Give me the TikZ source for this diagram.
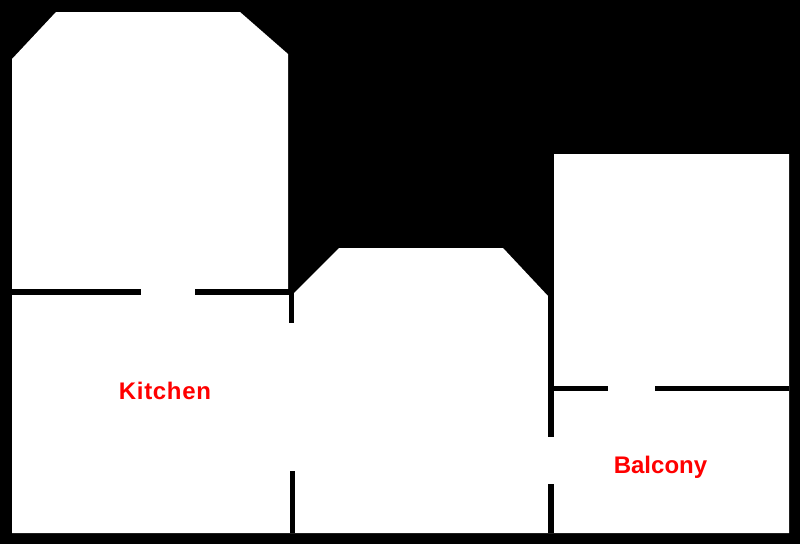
\documentclass[tikz,border=0pt]{standalone}
\usepackage{fontspec}
\setmainfont{Liberation Sans}
\newfontfamily\spacedfont[LetterSpace=2.8]{Liberation Sans}
\tikzset{
  wall/.style={fill=black,draw=none},
  floorarea/.style={fill=white,draw=none},
  roomlabel/.style={text=red,font=\fontsize{24}{24}\selectfont\bfseries,inner sep=0pt,anchor=base}
}
\begin{document}
\begin{tikzpicture}[x=1pt,y=-1pt]
\useasboundingbox (0,0) rectangle (800,544);
\fill[black] (0,0) rectangle (800,544);
% floor outline
\path[floorarea] (12,59) -- (56,12) -- (240,12) -- (288,54) -- (288,295) -- (293,294)
  -- (339,248) -- (503,248) -- (548,296) -- (548,298) -- (554,298) -- (554,154)
  -- (789,154) -- (789,533) -- (12,533) -- cycle;
% interior walls, kitchen side
\path[wall] (12,289) rectangle (141,295);
\path[wall] (195,289) rectangle (294,295);
\path[wall] (289,289) rectangle (294,323);
\path[wall] (290,471) rectangle (295,533);
% interior walls, balcony side
\path[wall] (548,296) rectangle (554,437);
\path[wall] (548,484) rectangle (554,533);
\path[wall] (554,386) rectangle (608,391);
\path[wall] (655,386) rectangle (789,391);
% labels
\node[roomlabel,font=\fontsize{24}{24}\selectfont\spacedfont\bfseries] (kitchen) at (165,399) {Kitchen};
\node[roomlabel] (balcony) at (660.5,473) {Balcony};
\end{tikzpicture}
\end{document}
